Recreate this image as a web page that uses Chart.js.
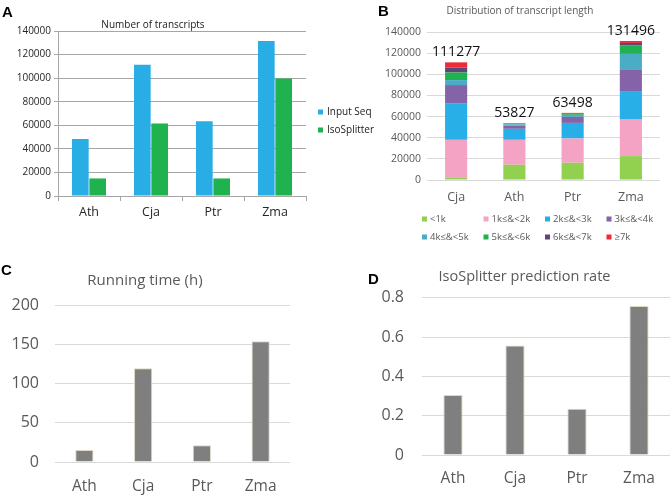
<!DOCTYPE html>
<html>
<head>
<meta charset="utf-8">
<script src="https://cdn.jsdelivr.net/npm/chart.js@4.4.1/dist/chart.umd.min.js"></script>
<style>
  html, body { margin:0; padding:0; background:#ffffff; }
  #page { position:relative; width:672px; height:497px; overflow:hidden; background:#fff; }
  canvas { position:absolute; }
  .lbl { position:absolute; font-family:'Liberation Sans', Arial, sans-serif; font-weight:bold; font-size:15px; line-height:15px; color:#000; z-index:2; }
</style>
</head>
<body>
<div id="page">
  <canvas id="cA" width="378" height="232" style="left:0px;top:0px;"></canvas>
  <canvas id="cB" width="290" height="252" style="left:380px;top:0px;"></canvas>
  <canvas id="cC" width="345" height="235" style="left:0px;top:262px;"></canvas>
  <canvas id="cD" width="300" height="235" style="left:379px;top:262px;"></canvas>
  <div class="lbl" style="left:2px;top:4px;">A</div>
  <div class="lbl" style="left:378px;top:3px;">B</div>
  <div class="lbl" style="left:1px;top:262px;">C</div>
  <div class="lbl" style="left:368px;top:271px;">D</div>
</div>
<script>
// ---------- Data ----------
const speciesA = ['Ath', 'Cja', 'Ptr', 'Zma'];
const inputSeq = [48300, 111277, 63498, 131496];
const isoSplitter = [14900, 61500, 14900, 99600];

const speciesB = ['Cja', 'Ath', 'Ptr', 'Zma'];
const lengthBins = ['<1k', '1k≤&<2k', '2k≤&<3k', '3k≤&<4k', '4k≤&<5k', '5k≤&<6k', '6k≤&<7k', '≥7k'];
const lenLt1k  = [2500, 14400, 16300, 22600];
const len1to2k = [35500, 23600, 22950, 34550];
const len2to3k = [34200, 10400, 14750, 27000];
const len3to4k = [17600, 3000, 5700, 20550];
const len4to5k = [4700, 1200, 1800, 14600];
const len5to6k = [7200, 600, 700, 7800];
const len6to7k = [4700, 400, 600, 2550];
const lenGe7k  = [4877, 227, 698, 1846];
const totalsB  = [111277, 53827, 63498, 131496];

const speciesC = ['Ath', 'Cja', 'Ptr', 'Zma'];
const runningTime = [15.3, 119.5, 21.2, 153.7];

const speciesD = ['Ath', 'Cja', 'Ptr', 'Zma'];
const predictionRate = [0.306, 0.557, 0.236, 0.759];

// ---------- Setup ----------
Chart.defaults.font.family = "'Open Sans', 'DejaVu Sans', sans-serif";
Chart.defaults.animation = false;
Chart.defaults.responsive = false;
Chart.defaults.devicePixelRatio = 1;
Chart.defaults.plugins.tooltip.enabled = false;

const GREY_TXT = '#595959';

// Grid legend plugin (draws legend entries from the datasets in a fixed grid)
const gridLegend = {
  id: 'gridLegend',
  afterDraw(chart, args, opts) {
    if (!opts || !opts.display) return;
    const ctx = chart.ctx;
    ctx.save();
    ctx.font = opts.fontSize + "px 'Open Sans', sans-serif";
    ctx.textBaseline = 'middle';
    ctx.textAlign = 'left';
    chart.data.datasets.forEach((ds, i) => {
      const col = i % opts.cols, row = Math.floor(i / opts.cols);
      const x = opts.left + col * opts.colWidth;
      const y = opts.top + row * opts.rowHeight;
      ctx.fillStyle = ds.backgroundColor;
      ctx.fillRect(x, y - opts.box / 2, opts.box, opts.box);
      ctx.fillStyle = opts.color;
      ctx.fillText(ds.label, x + opts.box + opts.gap, y);
    });
    ctx.restore();
  }
};

// Totals above stacked bars
const stackTotals = {
  id: 'stackTotals',
  afterDatasetsDraw(chart, args, opts) {
    if (!opts || !opts.values) return;
    const ctx = chart.ctx;
    const xs = chart.scales.x, ys = chart.scales.y;
    ctx.save();
    ctx.font = opts.fontSize + "px 'Open Sans', sans-serif";
    ctx.fillStyle = opts.color;
    ctx.textAlign = 'center';
    ctx.textBaseline = 'bottom';
    opts.values.forEach((v, i) => {
      ctx.fillText(String(v), xs.getPixelForValue(i), ys.getPixelForValue(v) - opts.offset);
    });
    ctx.restore();
  }
};

// ---------- Panel A ----------
new Chart(document.getElementById('cA'), {
  type: 'bar',
  data: {
    labels: speciesA,
    datasets: [
      { label: 'Input Seq', data: inputSeq, backgroundColor: '#29ade5' },
      { label: 'IsoSplitter', data: isoSplitter, backgroundColor: '#1fb24e' }
    ]
  },
  plugins: [gridLegend],
  options: {
    layout: { padding: { left: 0, right: 72, top: 0, bottom: 0 } },
    datasets: { bar: { categoryPercentage: 0.56, barPercentage: 0.96 } },
    plugins: {
      legend: { display: false },
      title: { display: true, text: 'Number of transcripts', color: '#1a1a1a',
               font: { size: 10, weight: 'normal' }, padding: { top: 19, bottom: 0 } },
      gridLegend: { display: true, left: 318, top: 112, cols: 1, colWidth: 0, rowHeight: 18,
                    box: 5, gap: 4, fontSize: 10, color: '#1a1a1a' }
    },
    scales: {
      y: {
        min: 0, max: 140000,
        ticks: { stepSize: 20000, color: '#262626', font: { size: 10 }, padding: 3,
                 format: { useGrouping: false } },
        grid: { color: '#a6a6a6', tickLength: 4 },
        border: { color: '#a6a6a6' },
        afterFit: s => { s.width = 58; }
      },
      x: {
        grid: { offset: true, drawOnChartArea: false, color: '#a6a6a6', tickLength: 5 },
        border: { color: '#a6a6a6' },
        ticks: { color: '#262626', font: { size: 12.5 }, padding: 4 },
        afterFit: s => { s.height = 36; }
      }
    }
  }
});

// ---------- Panel B ----------
const binColors = ['#92d050', '#f4a3c5', '#29afe7', '#8563a8', '#4bacc6', '#1fb24e', '#5e4778', '#ee2a36'];
const binData = [lenLt1k, len1to2k, len2to3k, len3to4k, len4to5k, len5to6k, len6to7k, lenGe7k];
new Chart(document.getElementById('cB'), {
  type: 'bar',
  data: {
    labels: speciesB,
    datasets: lengthBins.map((b, i) => ({ label: b, data: binData[i], backgroundColor: binColors[i] }))
  },
  plugins: [gridLegend, stackTotals],
  options: {
    layout: { padding: { left: 0, right: 10, top: 0, bottom: 42 } },
    datasets: { bar: { categoryPercentage: 0.38, barPercentage: 1 } },
    plugins: {
      legend: { display: false },
      title: { display: true, text: 'Distribution of transcript length', color: GREY_TXT,
               font: { size: 10, weight: 'normal' }, padding: { top: 5, bottom: 15 } },
      gridLegend: { display: true, left: 42, top: 219, cols: 4, colWidth: 61.5, rowHeight: 18,
                    box: 5, gap: 3, fontSize: 9.5, color: GREY_TXT },
      stackTotals: { values: totalsB, fontSize: 14, color: '#111111', offset: 3 }
    },
    scales: {
      y: {
        stacked: true, min: 0, max: 140000,
        ticks: { stepSize: 20000, color: GREY_TXT, font: { size: 10.5 }, padding: 6,
                 format: { useGrouping: false } },
        grid: { color: '#d9d9d9', drawTicks: false },
        border: { display: false },
        afterFit: s => { s.width = 47; }
      },
      x: {
        stacked: true,
        grid: { display: false, drawTicks: false },
        border: { display: false },
        ticks: { color: GREY_TXT, font: { size: 12.5 }, padding: 10 },
        afterFit: s => { s.height = 30; }
      }
    }
  }
});

// ---------- Panel C ----------
new Chart(document.getElementById('cC'), {
  type: 'bar',
  data: {
    labels: speciesC,
    datasets: [{ label: 'Running time (h)', data: runningTime,
                 backgroundColor: '#7f7f7f', borderColor: '#ddd8bf', borderWidth: 1 }]
  },
  options: {
    layout: { padding: { left: 0, right: 55, top: 0, bottom: 0 } },
    datasets: { bar: { categoryPercentage: 0.31, barPercentage: 1 } },
    plugins: {
      legend: { display: false },
      title: { display: true, text: 'Running time (h)', color: GREY_TXT,
               font: { size: 15, weight: 'normal' }, padding: { top: 10, bottom: 15 } }
    },
    scales: {
      y: {
        min: 0, max: 200,
        ticks: { stepSize: 50, color: GREY_TXT, font: { size: 16 }, padding: 16 },
        grid: { color: '#d9d9d9', drawTicks: false },
        border: { display: false },
        afterFit: s => { s.width = 55; }
      },
      x: {
        grid: { display: false, drawTicks: false },
        border: { display: false },
        ticks: { color: GREY_TXT, font: { size: 15.5 }, padding: 15 },
        afterFit: s => { s.height = 35; }
      }
    }
  }
});

// ---------- Panel D ----------
new Chart(document.getElementById('cD'), {
  type: 'bar',
  data: {
    labels: speciesD,
    datasets: [{ label: 'IsoSplitter prediction rate', data: predictionRate,
                 backgroundColor: '#7f7f7f', borderColor: '#ddd8bf', borderWidth: 1 }]
  },
  options: {
    layout: { padding: { left: 0, right: 9, top: 0, bottom: 0 } },
    datasets: { bar: { categoryPercentage: 0.31, barPercentage: 1 } },
    plugins: {
      legend: { display: false },
      title: { display: true, text: 'IsoSplitter prediction rate', color: GREY_TXT,
               font: { size: 14.5, weight: 'normal' }, padding: { top: 6, bottom: 12.5 } }
    },
    scales: {
      y: {
        min: 0, max: 0.8,
        ticks: { stepSize: 0.2, color: GREY_TXT, font: { size: 16 }, padding: 18 },
        grid: { color: '#d9d9d9', drawTicks: false },
        border: { display: false },
        afterFit: s => { s.width = 43; }
      },
      x: {
        grid: { display: false, drawTicks: false },
        border: { display: false },
        ticks: { color: GREY_TXT, font: { size: 15.5 }, padding: 14 },
        afterFit: s => { s.height = 42; }
      }
    }
  }
});
</script>
</body>
</html>
